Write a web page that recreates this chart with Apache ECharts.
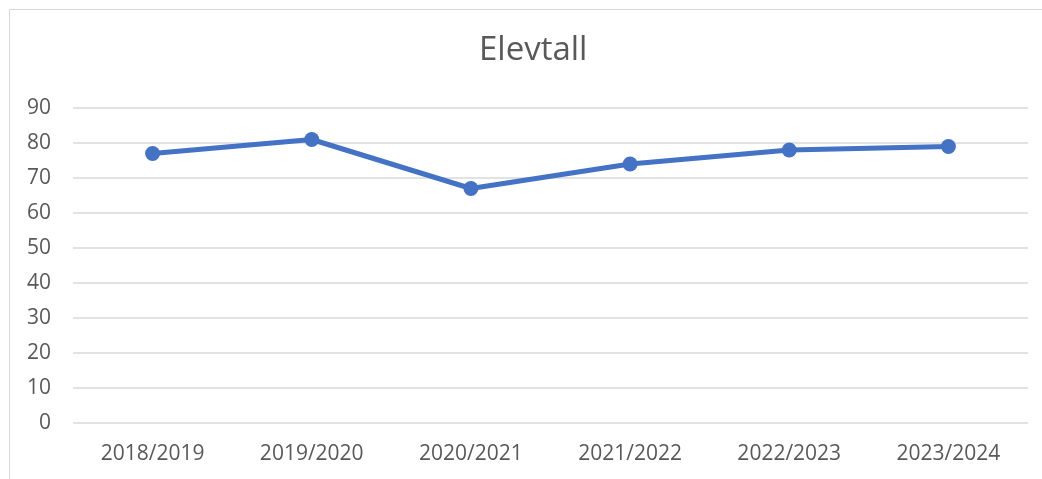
<!DOCTYPE html>
<html>
    <head>
        <meta charset="utf-8">
        <script src="https://cdn.jsdelivr.net/npm/echarts@6/dist/echarts.min.js"></script>
    </head>
    <body>
        <style>
            html, body, #main {
                width: 100%;
                height: 100%;
                margin: 0;
                background: #fff;
            }
        </style>
        <div id="main"></div>

        <script>
            var years = ['2018/2019', '2019/2020', '2020/2021', '2021/2022', '2022/2023', '2023/2024'];
            var elevtall = [77, 81, 67, 74, 78, 79];

            var chart = echarts.init(document.getElementById('main'));
            var textColor = '#595959';

            chart.setOption({
                animation: false,
                textStyle: { fontFamily: 'Open Sans' },
                title: {
                    text: 'Elevtall',
                    left: 474,
                    top: 29,
                    textStyle: {
                        color: textColor,
                        fontSize: 33,
                        fontWeight: 'normal',
                        fontFamily: 'Open Sans'
                    }
                },
                // border of the chart area (cut off at right/bottom)
                graphic: [{
                    type: 'rect',
                    shape: { x: 9.5, y: 9.5, width: 1100, height: 600 },
                    style: { fill: null, stroke: '#d9d9d9', lineWidth: 1 },
                    silent: true
                }],
                grid: {
                    left: 73,
                    right: 14,
                    top: 108,
                    bottom: 56
                },
                xAxis: {
                    type: 'category',
                    data: years,
                    boundaryGap: true,
                    axisLine: { show: false },
                    axisTick: { show: false },
                    axisLabel: {
                        color: textColor,
                        fontSize: 21,
                        margin: 21
                    }
                },
                yAxis: {
                    type: 'value',
                    min: 0,
                    max: 90,
                    interval: 10,
                    axisLine: { show: false },
                    axisTick: { show: false },
                    axisLabel: {
                        color: textColor,
                        fontSize: 21,
                        margin: 22,
                        padding: [3, 0, 0, 0]
                    },
                    splitLine: {
                        lineStyle: { color: '#d9d9d9', width: 1.5 }
                    }
                },
                series: [{
                    name: 'Elevtall',
                    type: 'line',
                    data: elevtall,
                    symbol: 'circle',
                    symbolSize: 15,
                    lineStyle: { color: '#4472c4', width: 5 },
                    itemStyle: { color: '#4472c4' }
                }]
            });

            window.onresize = chart.resize;
        </script>
    </body>
</html>
